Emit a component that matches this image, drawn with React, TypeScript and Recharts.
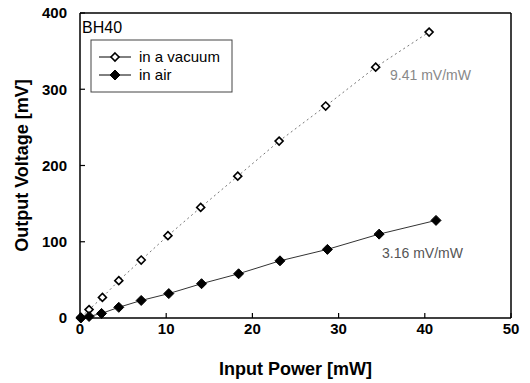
import React from "react";
import {
  ReferenceLine,
  Scatter,
  ScatterChart,
  XAxis,
  YAxis,
} from "recharts";

// readings from the figure (input power in mW, output voltage in mV)
const vacuumPower = [0.1, 1.05, 2.6, 4.5, 7.1, 10.2, 14.0, 18.3, 23.1, 28.5, 34.3, 40.5];
const vacuumVoltage = [1, 11, 27, 49, 76, 108, 145, 186, 232, 278, 329, 375];
const airPower = [0.1, 1.05, 2.5, 4.5, 7.1, 10.3, 14.1, 18.4, 23.2, 28.7, 34.7, 41.3];
const airVoltage = [0, 2, 6, 14, 23, 32, 45, 58, 75, 90, 110, 128];

const xTicks = [0, 10, 20, 30, 40, 50];
const yTicks = [0, 100, 200, 300, 400];

const vacuumData = vacuumPower.map((x, i) => ({ x, y: vacuumVoltage[i] }));
const airData = airPower.map((x, i) => ({ x, y: airVoltage[i] }));

const FONT = "'Liberation Sans', Arial, sans-serif";

const OpenDiamond = (props: any) => {
  const { cx, cy } = props;
  const r = 4;
  return (
    <polygon
      points={`${cx},${cy - r} ${cx + r},${cy} ${cx},${cy + r} ${cx - r},${cy}`}
      fill="#fff"
      stroke="#000"
      strokeWidth={1.6}
    />
  );
};

const FilledDiamond = (props: any) => {
  const { cx, cy } = props;
  const r = 5;
  return (
    <polygon
      points={`${cx},${cy - r} ${cx + r},${cy} ${cx},${cy + r} ${cx - r},${cy}`}
      fill="#000"
      stroke="#000"
      strokeWidth={1}
    />
  );
};

const tickStyle = { fontSize: 15, fontWeight: "bold", fill: "#000", fontFamily: FONT };

export default function App() {
  return (
    <div style={{ position: "absolute", left: 0, top: 0, width: 530, height: 383, background: "#fff" }}>
      <ScatterChart
        width={530}
        height={383}
        margin={{ top: 13, right: 19, bottom: 0, left: 0 }}
        style={{ fontFamily: FONT }}
      >
        <XAxis
          type="number"
          dataKey="x"
          domain={[0, 50]}
          ticks={xTicks}
          height={65}
          tickSize={-5}
          tickMargin={10}
          tick={tickStyle}
          axisLine={{ stroke: "#000", strokeWidth: 1.5 }}
          tickLine={{ stroke: "#000", strokeWidth: 1.2 }}
          label={{
            value: "Input Power [mW]",
            position: "insideBottom",
            offset: 8,
            style: { fontSize: 18, fontWeight: "bold", fill: "#000", fontFamily: FONT },
          }}
        />
        <YAxis
          type="number"
          dataKey="y"
          domain={[0, 400]}
          ticks={yTicks}
          width={80}
          tickSize={-5}
          tickMargin={18}
          tick={tickStyle}
          axisLine={{ stroke: "#000", strokeWidth: 1.5 }}
          tickLine={{ stroke: "#000", strokeWidth: 1.2 }}
          label={{
            value: "Output Voltage [mV]",
            angle: -90,
            position: "insideLeft",
            offset: 22,
            style: { fontSize: 18, fontWeight: "bold", fill: "#000", fontFamily: FONT, textAnchor: "middle" },
          }}
        />
        <ReferenceLine y={400} stroke="#000" strokeWidth={1.5} />
        <ReferenceLine x={50} stroke="#000" strokeWidth={1.5} />
        <Scatter
          name="in a vacuum"
          data={vacuumData}
          line={{ stroke: "#777", strokeWidth: 1, strokeDasharray: "2 3" }}
          lineType="joint"
          shape={OpenDiamond}
          isAnimationActive={false}
        />
        <Scatter
          name="in air"
          data={airData}
          line={{ stroke: "#333", strokeWidth: 1 }}
          lineType="joint"
          shape={FilledDiamond}
          isAnimationActive={false}
        />
      </ScatterChart>
      <svg
        width={530}
        height={383}
        style={{ position: "absolute", left: 0, top: 0, pointerEvents: "none", fontFamily: FONT }}
      >
        <text x={82} y={33} fontSize={16} fill="#000">BH40</text>
        <rect x={91} y={40} width={141} height={52} fill="#fff" stroke="#444" strokeWidth={1} />
        <line x1={99} y1={57} x2={131} y2={57} stroke="#000" strokeWidth={1} />
        <OpenDiamond cx={115} cy={57} />
        <text x={139} y={62} fontSize={15} fill="#000">in a vacuum</text>
        <line x1={99} y1={75} x2={131} y2={75} stroke="#000" strokeWidth={1} />
        <FilledDiamond cx={115} cy={75} />
        <text x={139} y={80} fontSize={15} fill="#000">in air</text>
        <text x={390} y={80} fontSize={14} fill="#888">9.41 mV/mW</text>
        <text x={382} y={258} fontSize={14} fill="#555">3.16 mV/mW</text>
      </svg>
    </div>
  );
}
